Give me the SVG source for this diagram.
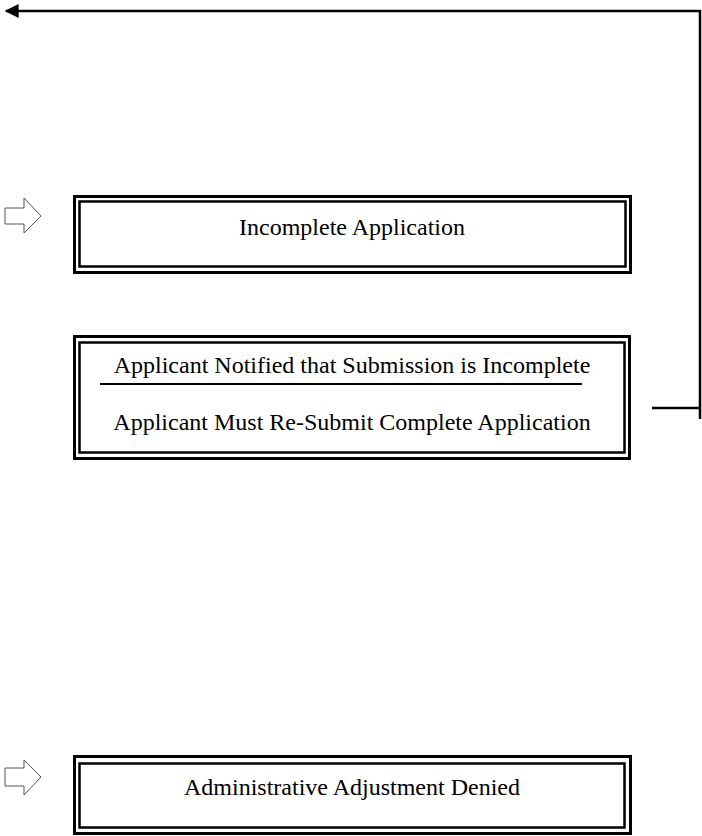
<svg xmlns="http://www.w3.org/2000/svg" width="702" height="836" viewBox="0 0 702 836">
<defs>
<style>
.outer{fill:none;stroke:#000;stroke-width:3}
.inner{fill:none;stroke:#000;stroke-width:2.5}
.lbl{font-family:"Liberation Serif","Times New Roman",serif;font-size:24px;fill:#000;text-anchor:middle}
.blk{fill:#fff;stroke:#555;stroke-width:1}
.conn{fill:none;stroke:#000;stroke-width:2.5}
</style>
<marker id="ah" viewBox="0 0 10 10" refX="9" refY="5" markerWidth="6" markerHeight="5.6" orient="auto" markerUnits="strokeWidth">
<path d="M0,0 L10,5 L0,10 z" fill="#000"/>
</marker>
</defs>
<rect width="702" height="836" fill="#fff"/>
<g id="connectors">
<polyline class="conn" points="652,408 700,408"/>
<polyline class="conn" points="700,419 700,11 6,11" marker-end="url(#ah)"/>
</g>
<g id="arrow1"><polygon class="blk" points="5,208 24,208 24,198 41,216 24,233 24,224 5,224"/></g>
<g id="arrow2"><polygon class="blk" points="5,768 24,768 24,760 41,777 24,795 24,786 5,786"/></g>
<g id="incomplete">
<rect class="outer" x="74.5" y="196.5" width="556" height="76"/>
<rect class="inner" x="79.5" y="201.5" width="546" height="65"/>
<text class="lbl" x="352" y="235">Incomplete Application</text>
</g>
<g id="notified">
<rect class="outer" x="74.5" y="336.5" width="555" height="122"/>
<rect class="inner" x="79.5" y="342.5" width="545" height="110"/>
<text class="lbl" x="352" y="373">Applicant Notified that Submission is Incomplete</text>
<line x1="100" y1="384" x2="582" y2="384" stroke="#000" stroke-width="1.8"/>
<text class="lbl" x="352" y="430">Applicant Must Re-Submit Complete Application</text>
</g>
<g id="denied">
<rect class="outer" x="74.5" y="756.5" width="556" height="77"/>
<rect class="inner" x="79.5" y="763.5" width="545" height="64"/>
<text class="lbl" x="352" y="795">Administrative Adjustment Denied</text>
</g>
</svg>
